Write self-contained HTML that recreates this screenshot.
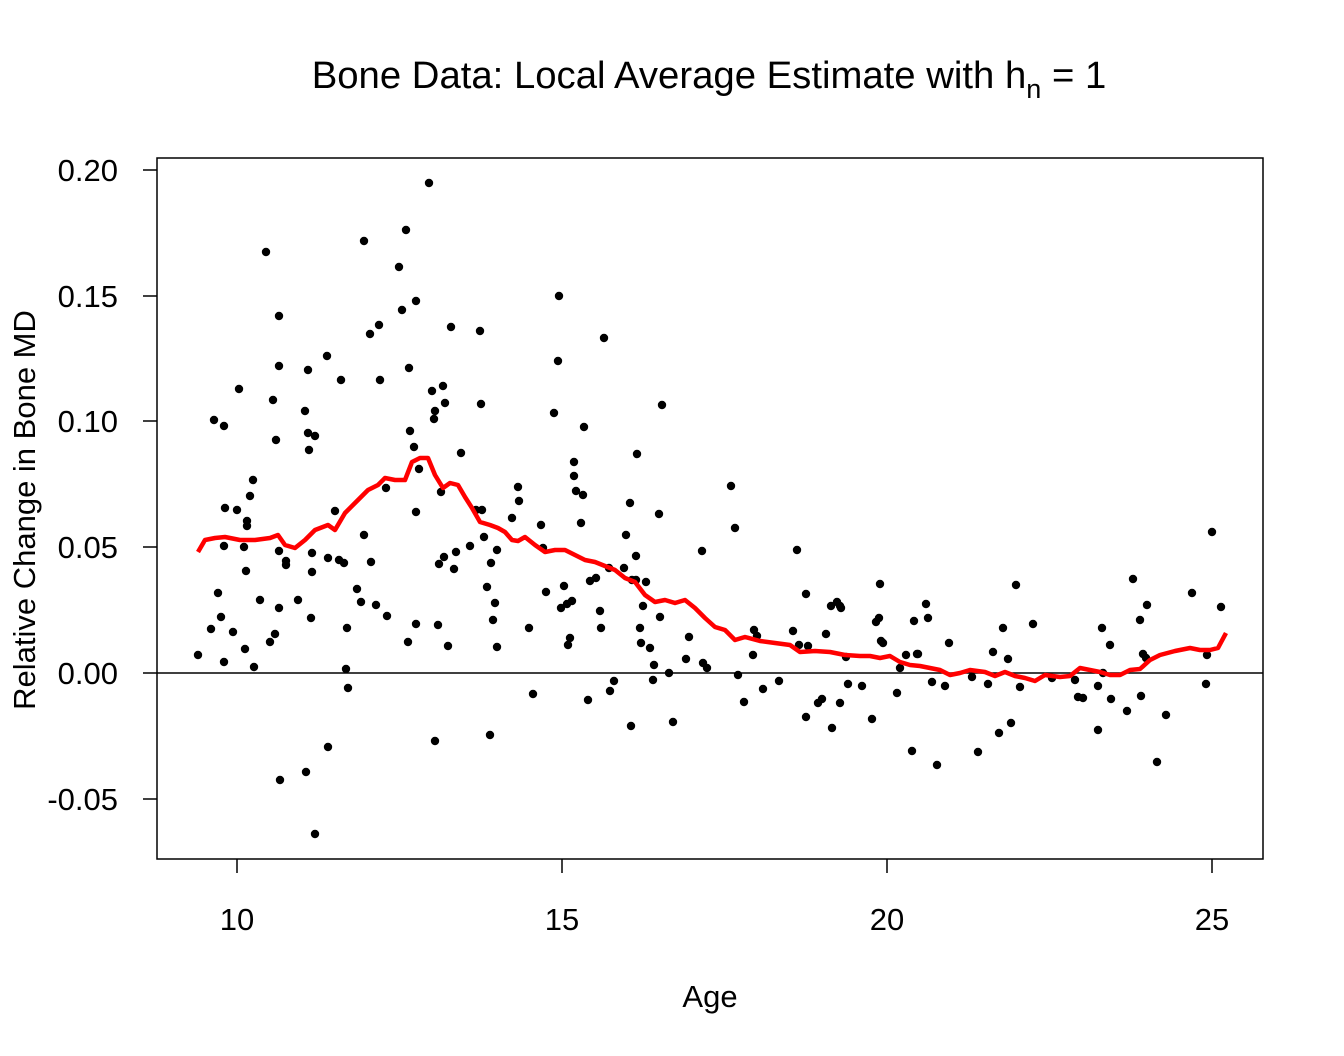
<!DOCTYPE html>
<html><head><meta charset="utf-8"><style>body{margin:0;background:#fff}svg{display:block}text{font-family:"Liberation Sans",Arial,sans-serif;fill:#000}</style></head>
<body>
<svg id="s" width="1344" height="1056" xmlns="http://www.w3.org/2000/svg">
<rect width="1344" height="1056" fill="#fff"/>
<text x="709" y="88" font-size="38.3" text-anchor="middle">Bone Data: Local Average Estimate with h<tspan font-size="27" dy="10">n</tspan><tspan dy="-10"> = 1</tspan></text>
<rect x="157" y="158" width="1106" height="701" fill="none" stroke="#000" stroke-width="1.5"/>
<line x1="157" y1="673" x2="1263" y2="673" stroke="#000" stroke-width="1.5"/>
<g stroke="#000" stroke-width="1.5">
<line x1="237" y1="859" x2="237" y2="873"/><line x1="562" y1="859" x2="562" y2="873"/><line x1="887" y1="859" x2="887" y2="873"/><line x1="1212" y1="859" x2="1212" y2="873"/>
<line x1="143" y1="170" x2="157" y2="170"/><line x1="143" y1="296" x2="157" y2="296"/><line x1="143" y1="421" x2="157" y2="421"/><line x1="143" y1="547" x2="157" y2="547"/><line x1="143" y1="673" x2="157" y2="673"/><line x1="143" y1="799" x2="157" y2="799"/>
</g>
<g font-size="31" text-anchor="middle">
<text x="237" y="930">10</text><text x="562" y="930">15</text><text x="887" y="930">20</text><text x="1212" y="930">25</text>
<text x="710" y="1007">Age</text>
</g>
<g font-size="31" text-anchor="end">
<text x="118" y="181">0.20</text><text x="118" y="307">0.15</text><text x="118" y="432">0.10</text><text x="118" y="558">0.05</text><text x="118" y="684">0.00</text><text x="118" y="810">-0.05</text>
</g>
<text transform="translate(35,510) rotate(-90)" font-size="31" text-anchor="middle">Relative Change in Bone MD</text>
<g id="pts" fill="#000"></g>
<polyline id="ln" fill="none" stroke="#ff0000" stroke-width="4.5" stroke-linejoin="round"/>
</svg>
<script>
var P=[198,655,211,629,214,420,218,593,221,617,224,426,224,662,225,508,224,546,233,632,237,510,239,389,245,649,244,547,246,571,247,521,247,526,250,496,253,480,254,667,260,600,266,252,270,642,273,400,276,440,275,634,279,366,279,316,279,608,279,551,280,780,286,561,286,565,298,600,305,411,306,772,308,370,309,450,308,433,311,618,312,553,312,572,315,436,315,834,327,356,328,747,328,558,335,511,339,560,341,380,344,563,346,669,347,628,348,688,357,589,361,602,364,241,364,535,370,334,371,562,376,605,379,325,380,380,386,488,387,616,399,267,402,310,406,230,409,368,408,642,410,431,414,447,416,512,416,624,416,301,419,469,429,183,432,391,434,419,435,411,435,741,438,625,439,564,441,492,443,386,445,403,444,557,448,646,451,327,454,569,456,552,461,453,470,546,476,510,480,331,481,404,482,510,484,537,487,587,490,735,491,563,493,620,495,603,497,647,497,550,512,518,518,487,519,501,529,628,533,694,541,525,543,548,546,592,554,413,558,361,559,296,561,608,564,586,567,604,568,645,570,638,572,601,574,462,574,476,576,491,581,523,583,495,584,427,588,700,590,581,596,578,600,611,601,628,604,338,609,568,610,691,614,681,624,568,626,535,630,503,631,726,632,580,636,580,636,556,637,454,640,628,641,643,643,606,646,582,650,648,653,680,654,665,659,514,660,617,662,405,669,673,673,722,686,659,689,637,702,551,703,663,707,668,731,486,735,528,738,675,744,702,753,655,754,630,757,636,763,689,779,681,793,631,797,550,799,645,806,717,806,594,808,646,818,703,822,699,826,634,832,728,831,606,837,602,840,606,841,608,840,703,846,657,848,684,862,686,872,719,876,622,879,618,880,584,881,641,883,643,897,693,900,668,906,655,912,751,914,621,917,654,918,654,926,604,928,618,932,682,937,765,945,686,949,643,972,677,978,752,988,684,993,652,999,733,1003,628,1008,659,1011,723,1016,585,1020,687,1033,624,1052,678,1075,680,1078,697,1083,698,1098,730,1098,686,1102,628,1103,673,1110,645,1111,699,1127,711,1133,579,1140,620,1141,696,1143,654,1147,605,1146,658,1157,762,1166,715,1192,593,1206,684,1207,655,1212,532,1221,607];
var g=document.getElementById('pts'),h='';
for(var i=0;i<P.length;i+=2)h+='<circle cx="'+P[i]+'" cy="'+P[i+1]+'" r="4.2"/>';
g.innerHTML=h;
var L=[198,552,205,540,215,538,225,537,240,540,255,540,270,538,278,535,285,545,295,548,305,540,315,530,328,525,335,530,345,513,358,500,368,490,378,485,385,478,395,480,405,480,412,462,420,458,428,458,435,475,443,488,450,483,458,485,465,497,472,508,480,522,490,525,498,528,505,532,512,540,518,541,525,537,535,545,545,552,555,550,565,550,575,555,585,560,595,562,605,566,615,570,625,578,635,582,645,595,655,602,665,600,675,603,685,600,695,608,705,618,715,627,725,630,735,640,745,637,760,641,775,643,790,645,800,652,815,651,830,652,845,655,860,656,870,656,880,658,890,656,900,662,910,665,920,666,930,668,940,670,950,675,960,673,970,670,985,672,995,676,1005,672,1015,676,1025,678,1035,681,1045,675,1060,677,1070,676,1080,668,1090,670,1100,672,1110,675,1120,675,1130,670,1140,669,1150,660,1160,655,1175,651,1190,648,1200,650,1210,650,1218,648,1226,633];
var s='';for(var i=0;i<L.length;i+=2)s+=L[i]+','+L[i+1]+' ';
document.getElementById('ln').setAttribute('points',s);
</script>
</body></html>
